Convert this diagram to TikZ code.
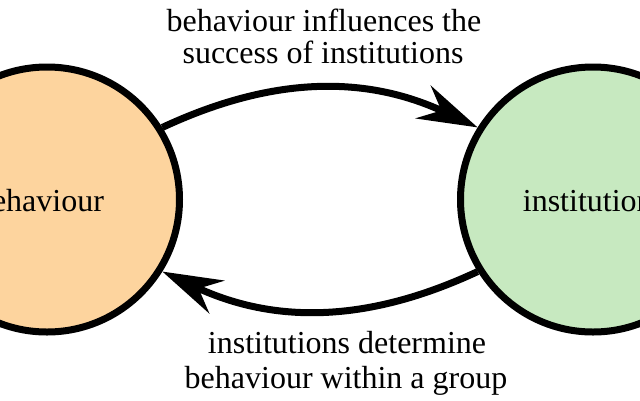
\documentclass[tikz,border=0pt]{standalone}
\usepackage{fontspec}
\setmainfont{Liberation Serif}
\usetikzlibrary{arrows.meta}
\definecolor{orangefill}{HTML}{FDD49E}
\definecolor{greenfill}{HTML}{C7E9C0}
\begin{document}
\begin{tikzpicture}[x=1pt,y=1pt,
  state/.style={circle,draw=black,line width=7pt,minimum size=265pt,inner sep=0pt,font=\fontsize{32}{35}\selectfont},
  lbl/.style={anchor=base,inner sep=0pt,font=\fontsize{32}{35}\selectfont},
  conn/.style={line width=7pt,-{Stealth[length=60pt,width=36pt,inset=20pt]}}]
\useasboundingbox (0,0) rectangle (640,-400);
\node[state,fill=orangefill] (L) at (47,-199.5) {};
\node[state,fill=greenfill] (R) at (593,-199.5) {};
\node[lbl] (Lt) at (40,-211) {behaviour};
\node[lbl] (Rt) at (594,-211) {institutions};
\draw[conn] (L.32) to[bend left=25] (R.148);
\draw[conn] (R.212) to[bend left=25] (L.328);
\node[lbl] (t1) at (324,-31) {behaviour influences the};
\node[lbl] (t2) at (323,-63) {success of institutions};
\node[lbl] (b1) at (347,-353) {institutions determine};
\node[lbl] (b2) at (346,-388) {behaviour within a group};
\end{tikzpicture}
\end{document}
